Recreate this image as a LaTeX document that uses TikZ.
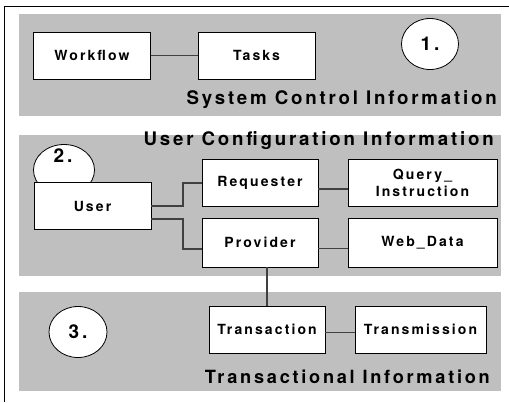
\documentclass[tikz,border=0pt]{standalone}
\usepackage{fontspec}
\setmainfont{TeX Gyre Heros}
\newfontfamily\spacedfont[LetterSpace=15]{TeX Gyre Heros}
\usetikzlibrary{shapes.geometric}

\begin{document}
\begin{tikzpicture}[x=1bp,y=-1bp,
  band/.style={fill=black!25,draw=none},
  box/.style={draw,fill=white,line width=0.8bp,minimum width=117bp,minimum height=47bp,
    inner sep=0pt,align=center,font=\spacedfont\bfseries\fontsize{14bp}{17bp}\selectfont},
  num/.style={ellipse,draw,fill=white,line width=0.8bp,minimum width=57bp,minimum height=51bp,
    inner sep=0pt,font=\spacedfont\bfseries\fontsize{19bp}{20bp}\selectfont},
  head/.style={anchor=east,inner sep=0pt,font=\spacedfont\bfseries\fontsize{18.7bp}{20bp}\selectfont},
  link/.style={draw=black!75,line width=1.3bp}]

\useasboundingbox (0,0) rectangle (509,402);

% frame
\coordinate (f1) at (4,402);
\coordinate (f2) at (4,6);
\coordinate (f3) at (509,6);
\draw[line width=0.8bp] (f1) -- (f2) -- (f3);

% bands
\path[band] (19,14) rectangle (501,116);
\path[band] (19,135) rectangle (501,276);
\path[band] (19,292) rectangle (501,391);

% 1.
\node[box] (workflow) at (92,55.5) {Workflow};
\node[box] (tasks) at (256.5,55.5) {Tasks};
\node[num] (n1) at (430,44) {1.};
\node[head] (sys) at (497,100) {System Control Information};

\path[link] (workflow) -- (tasks);

% 2.
\node[head] (usr) at (494,141) {User Configuration Information};
\node[num,minimum width=61bp] (n2) at (64,170) {};
\node[font=\spacedfont\bfseries\fontsize{19bp}{20bp}\selectfont,inner sep=0pt] (n2lbl) at (63,156) {2.};
\node[box] (user) at (92.5,206) {User};
\node[box,minimum width=116bp] (requester) at (260,183) {Requester};
\node[box,minimum width=149bp] (query) at (422.5,183) {Query\_\\Instruction};
\node[box,minimum width=116bp,minimum height=49bp] (provider) at (260,242.5) {Provider};
\node[box,minimum width=149bp,minimum height=49bp] (webdata) at (422.5,242.5) {Web\_Data};

\path[link] (user.east) -| (183,183) -- (requester.west);
\path[link] ([yshift=-13bp]user.east) -| (183,249) -- (provider.west |- 0,249);
\path[link] ([yshift=-6bp]requester.east) -- ([yshift=-6bp]query.west);
\path[link] ([yshift=-6bp]provider.east) -- ([yshift=-6bp]webdata.west);

% 3.
\node[num,minimum width=58bp] (n3) at (78,332) {3.};
\node[box,minimum width=116bp] (transaction) at (267,329.5) {Transaction};
\node[box,minimum width=131bp] (transmission) at (420.5,329.5) {Transmission};
\node[head,font=\spacedfont\bfseries\fontsize{18.2bp}{20bp}\selectfont] (trans) at (490,377) {Transactional Information};

\path[link] (transaction.north) -- (transaction.north |- provider.south);
\path[link] ([yshift=-3bp]transaction.east) -- ([yshift=-3bp]transmission.west);

\end{tikzpicture}
\end{document}
